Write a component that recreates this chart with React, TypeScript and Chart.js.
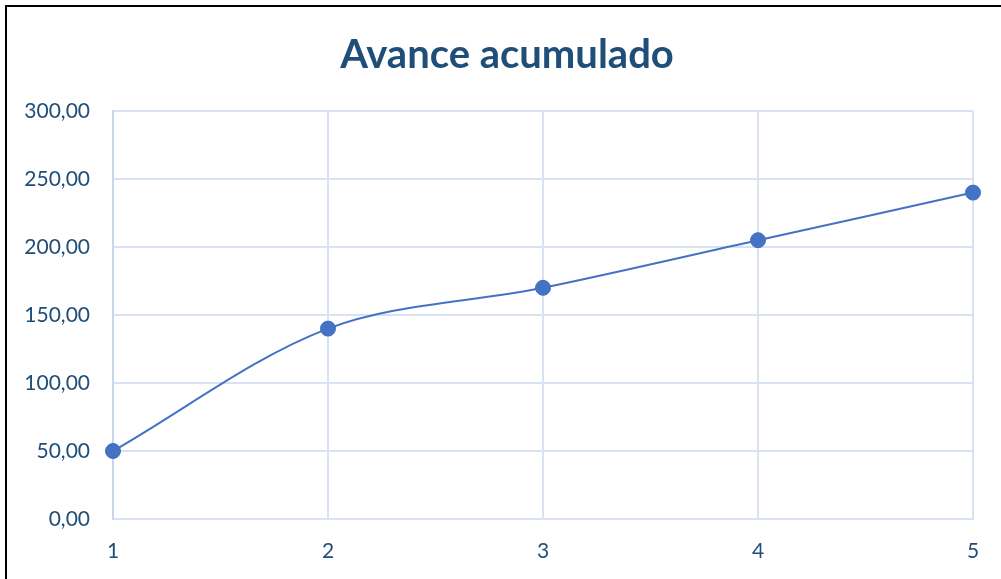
import React, { useEffect, useRef } from "react";
import { Chart, registerables } from "chart.js";

Chart.register(...registerables);

const categories = ["1", "2", "3", "4", "5"];
const values = [50, 140, 170, 205, 240];
const yMin = 0;
const yMax = 300;
const yStep = 50;
const titleText = "Avance acumulado";

const TEXT = "#1F4E79";
const LINE = "#4472C4";
const GRID = "#D9E2F3";

const titlePlugin = {
  id: "customTitle",
  afterDraw(chart: any) {
    const ctx = chart.ctx;
    ctx.save();
    ctx.fillStyle = TEXT;
    ctx.font = "bold 40px Lato";
    ctx.textAlign = "center";
    ctx.textBaseline = "middle";
    ctx.fillText(titleText, 507, 55);
    ctx.restore();
  },
};

export default function App() {
  const ref = useRef<HTMLCanvasElement | null>(null);
  useEffect(() => {
    if (!ref.current) return;
    const chart = new Chart(ref.current, {
      type: "line",
      data: {
        labels: categories,
        datasets: [
          {
            data: values,
            borderColor: LINE,
            borderWidth: 2,
            backgroundColor: LINE,
            pointBackgroundColor: LINE,
            pointBorderColor: "#4070BF",
            pointBorderWidth: 1,
            pointRadius: 7.5,
            tension: 0.33,
            fill: false,
          },
        ],
      },
      options: {
        animation: false,
        responsive: false,
        maintainAspectRatio: false,
        layout: { padding: { left: 0, right: 28, top: 111, bottom: 0 } },
        plugins: {
          legend: { display: false },
          tooltip: { enabled: false },
          title: { display: false },
        },
        scales: {
          x: {
            offset: false,
            grid: { color: GRID, lineWidth: 2, drawTicks: false },
            border: { color: GRID, width: 2 },
            ticks: {
              color: TEXT,
              font: { family: "Lato", size: 21 },
              padding: 20,
            },
            afterFit: (s: any) => {
              s.height = 60;
            },
          },
          y: {
            min: yMin,
            max: yMax,
            grid: { color: GRID, lineWidth: 2, drawTicks: false },
            border: { color: "#C7D5EE", width: 2 },
            ticks: {
              stepSize: yStep,
              color: TEXT,
              font: { family: "Lato", size: 21 },
              padding: 23,
              callback: (v: any) => Number(v).toFixed(2).replace(".", ","),
            },
            afterFit: (s: any) => {
              s.width = 113;
            },
          },
        },
      },
      plugins: [titlePlugin],
    });
    return () => chart.destroy();
  }, []);
  return (
    <div style={{ position: "absolute", left: 0, top: 0, width: 1001, height: 579, background: "#fff", overflow: "hidden" }}>
      <div
        style={{
          position: "absolute",
          left: 5,
          top: 5,
          right: -10,
          bottom: -10,
          borderLeft: "2px solid #000",
          borderTop: "2px solid #000",
        }}
      />
      <canvas ref={ref} width={1001} height={579} style={{ position: "absolute", left: 0, top: 0 }} />
    </div>
  );
}
